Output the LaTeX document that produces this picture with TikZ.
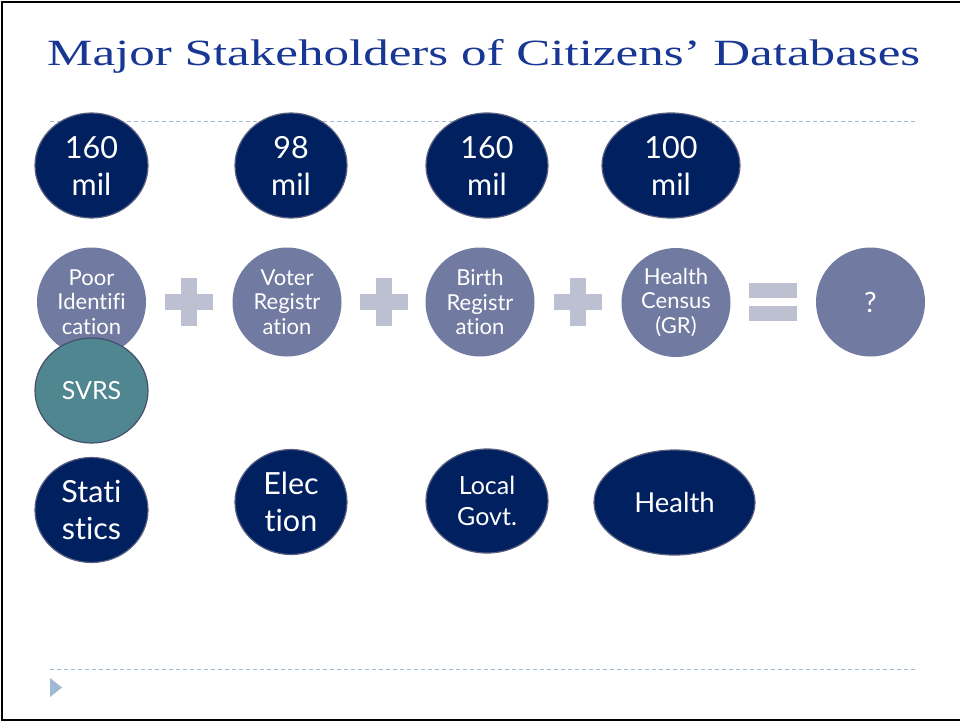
\documentclass[tikz,border=0pt]{standalone}
\usepackage{fontspec}
\usepackage{graphicx}
\setmainfont{Lato}[Ligatures=NoCommon]
\newfontfamily\titlefont{Liberation Serif}
\usetikzlibrary{shapes.geometric}
\definecolor{titleblue}{RGB}{24,54,148}
\definecolor{navy}{RGB}{1,32,96}
\definecolor{navyedge}{RGB}{90,96,128}
\definecolor{slate}{RGB}{113,122,160}
\definecolor{opgrey}{RGB}{188,192,208}
\definecolor{teal}{RGB}{80,134,144}
\definecolor{tealedge}{RGB}{70,80,110}
\definecolor{rule}{RGB}{160,185,210}
\tikzset{
  navyell/.style={ellipse, fill=navy, draw=navyedge, line width=1.2pt, inner sep=0pt, text=white, align=center},
  slatecirc/.style={circle, fill=slate, inner sep=0pt, minimum size=109pt, text=white, align=center},
  tealell/.style={ellipse, fill=teal, draw=tealedge, line width=1.2pt, inner sep=0pt, text=white, align=center},
  rulestyle/.style={draw=rule, line width=0.8pt, dash pattern=on 4pt off 3pt},
  big/.style={font=\fontsize{30.5}{37}\selectfont},
  mid/.style={font=\fontsize{25}{31}\selectfont},
  small/.style={font=\fontsize{22}{24.5}\selectfont}
}
\begin{document}
\begin{tikzpicture}[x=1pt,y=-1pt]
\useasboundingbox (0,0) rectangle (960,721);
\fill[white] (0,0) rectangle (960,721);
% frame
\draw[black, line width=2pt] (2,721) -- (2,2) -- (960,2);
\draw[black, line width=2pt] (2,719.5) -- (960,719.5);
% title
\node[anchor=base west, inner sep=0pt, text=titleblue] (title) at (47,65)
  {\resizebox{873pt}{\height}{\titlefont\fontsize{37}{42}\selectfont Major Stakeholders of Citizens’ Databases}};
% rules
\coordinate (r1a) at (50,121.5); \coordinate (r1b) at (915,121.5);
\draw[rulestyle] (r1a) -- (r1b);
\coordinate (r2a) at (50,669); \coordinate (r2b) at (915,669);
\draw[rulestyle] (r2a) -- (r2b);
\fill[rule] (50,678) -- (62,687.5) -- (50,697) -- cycle;
% top row
\node[navyell, big, minimum width=113pt, minimum height=105pt] (n1) at (91.5,165.5) {160\\mil};
\node[navyell, big, minimum width=112pt, minimum height=105pt] (n2) at (291,165.5) {98\\mil};
\node[navyell, big, minimum width=122pt, minimum height=105pt] (n3) at (487,165.5) {160\\mil};
\node[navyell, big, minimum width=138pt, minimum height=105pt] (n4) at (671,165.5) {100\\mil};
% middle row
\node[slatecirc, small] (c1) at (91.5,302) {Poor\\Identifi\\cation};
\node[slatecirc, small] (c2) at (287,302) {Voter\\Registr\\ation};
\node[slatecirc, small] (c3) at (480,302) {Birth\\Registr\\ation};
\node[slatecirc, small] (c4) at (676,302.5) {Health\\Census\\(GR)};
\node[slatecirc, font=\fontsize{28}{32}\selectfont] (c5) at (870.5,302) {?};
% plus signs
\foreach \px/\nm in {189/p1, 384/p2, 578/p3} {
  \coordinate (\nm) at (\px,302);
  \fill[opgrey] ([xshift=-24pt,yshift=-8pt]\nm) rectangle ([xshift=24pt,yshift=8pt]\nm);
  \fill[opgrey] ([xshift=-8pt,yshift=-24pt]\nm) rectangle ([xshift=8pt,yshift=24pt]\nm);
}
% equals
\coordinate (eq) at (773,302);
\fill[opgrey] ([xshift=-24pt,yshift=-19pt]eq) rectangle ([xshift=24pt,yshift=-4pt]eq);
\fill[opgrey] ([xshift=-24pt,yshift=4pt]eq) rectangle ([xshift=24pt,yshift=19pt]eq);
% SVRS
\node[tealell, mid, minimum width=113pt, minimum height=105pt] (svrs) at (91.5,390.5) {SVRS};
% bottom row
\node[navyell, big, minimum width=113pt, minimum height=105pt] (b1) at (91.5,510) {Stati\\stics};
\node[navyell, big, minimum width=112pt, minimum height=105pt] (b2) at (291,502) {Elec\\tion};
\node[navyell, mid, minimum width=122pt, minimum height=104pt] (b3) at (487,501) {Local\\Govt.};
\node[navyell, font=\fontsize{27.5}{32}\selectfont, minimum width=161pt, minimum height=105pt] (b4) at (674.5,502.5) {Health};
\end{tikzpicture}
\end{document}
